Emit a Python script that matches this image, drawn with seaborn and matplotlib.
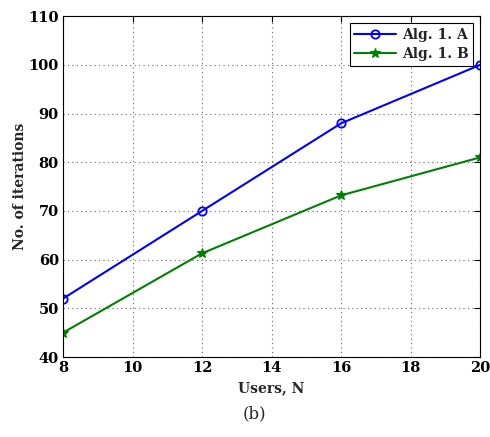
import pandas as pd
import seaborn as sns
import matplotlib.pyplot as plt

# Data
users = [8, 12, 16, 20]
iters_a = [52, 70, 88, 100]
iters_b = [45, 61.3, 73.2, 81]
series_names = ["Alg. 1. A", "Alg. 1. B"]

df = pd.DataFrame({
    "users": users * 2,
    "iters": iters_a + iters_b,
    "alg": [series_names[0]] * len(users) + [series_names[1]] * len(users),
})

sns.set_style("white")
plt.rcParams["font.family"] = ["DejaVu Serif"]

fig = plt.figure(figsize=(4.9, 4.37), dpi=100)
ax = fig.add_axes([0.1286, 0.183, 0.8514, 0.78])

# blue open circles for A, green stars for B
sns.lineplot(data=df, x="users", y="iters", hue="alg", style="alg",
             palette=["#0000ff", "#008000"], markers=["o", "*"], dashes=False,
             markersize=6, linewidth=1.5, ax=ax)


def fix_markers(lines):
    for line in lines:
        c = line.get_color()
        line.set_markeredgecolor(c)
        if line.get_marker() == "o":
            line.set_markerfacecolor("none")
            line.set_markeredgewidth(1.3)
        else:
            line.set_markerfacecolor(c)
            line.set_markeredgewidth(0.8)
            line.set_markersize(7)


fix_markers(ax.get_lines())

ax.set_xlim(8, 20)
ax.set_ylim(40, 110)
ax.set_xticks(range(8, 21, 2))
ax.set_yticks(range(40, 111, 10))
ax.grid(True, linestyle=(0, (1, 3)), color="#666666", linewidth=0.8)
for s in ax.spines.values():
    s.set_color("black")
    s.set_linewidth(0.8)
ax.tick_params(direction="in", length=4, width=0.8, top=True, right=True,
               labelsize=10.5, colors="black", pad=3)
for lab in ax.get_xticklabels() + ax.get_yticklabels():
    lab.set_fontweight("bold")

ax.set_xlabel("Users, N", fontsize=10, fontweight="bold", labelpad=4)
ax.set_ylabel("No. of iterations", fontsize=10, fontweight="semibold", labelpad=1)

leg = ax.legend(loc="upper right", frameon=True, fancybox=False,
                edgecolor="black", framealpha=1, borderpad=0.35, handlelength=3,
                labelspacing=0.35, borderaxespad=0.5, handletextpad=0.4,
                prop={"weight": "bold", "size": 10})
leg.get_frame().set_linewidth(0.8)
fix_markers(leg.get_lines())

fig.text(0.52, 0.052, "(b)", ha="center", va="center", fontsize=12)

fig.savefig("out.png", dpi=100)
